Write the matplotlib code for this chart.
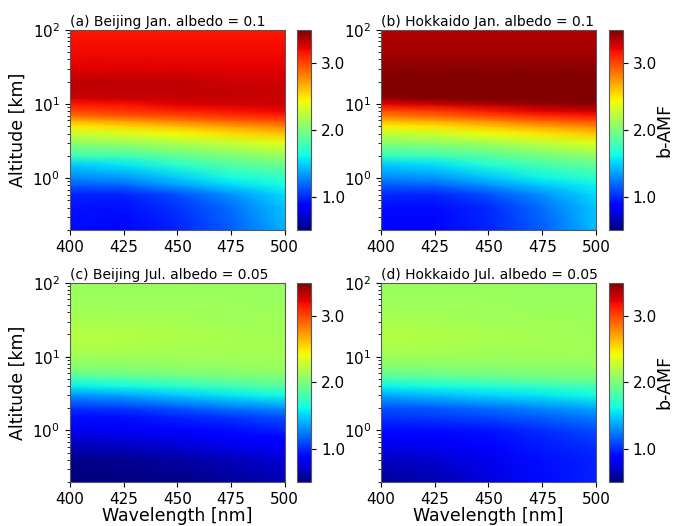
import numpy as np
import matplotlib

matplotlib.use("Agg")
import matplotlib.pyplot as plt

# grid (cell rows = altitude in km, columns = wavelength in nm)
wavelength = [400, 425, 450, 475, 500]
altitude = [0.2, 0.4, 0.6, 0.8, 1.0, 1.5, 2, 3, 4, 5, 6, 7, 8, 10, 12, 15, 20, 30, 50, 100]

titles = ["(a) Beijing Jan. albedo = 0.1", "(b) Hokkaido Jan. albedo = 0.1",
          "(c) Beijing Jul. albedo = 0.05", "(d) Hokkaido Jul. albedo = 0.05"]

beijing_jan = [
    [0.90, 0.88, 0.98, 1.15, 1.40],
    [0.93, 0.92, 1.02, 1.20, 1.45],
    [0.97, 0.97, 1.10, 1.30, 1.53],
    [1.14, 1.17, 1.34, 1.50, 1.63],
    [1.27, 1.32, 1.47, 1.62, 1.72],
    [1.47, 1.55, 1.70, 1.84, 1.93],
    [1.77, 1.80, 1.90, 2.00, 2.10],
    [2.08, 2.11, 2.19, 2.28, 2.38],
    [2.28, 2.34, 2.43, 2.52, 2.60],
    [2.47, 2.54, 2.63, 2.72, 2.81],
    [2.68, 2.75, 2.85, 2.93, 2.99],
    [2.88, 2.95, 3.00, 3.07, 3.12],
    [3.00, 3.05, 3.12, 3.17, 3.21],
    [3.15, 3.18, 3.25, 3.28, 3.30],
    [3.28, 3.31, 3.31, 3.31, 3.31],
    [3.33, 3.33, 3.33, 3.32, 3.31],
    [3.34, 3.33, 3.33, 3.30, 3.28],
    [3.25, 3.25, 3.25, 3.24, 3.24],
    [3.20, 3.20, 3.20, 3.20, 3.20],
    [3.16, 3.16, 3.16, 3.16, 3.16],
]

hokkaido_jan = [
    [0.88, 0.87, 0.97, 1.15, 1.43],
    [0.90, 0.90, 1.00, 1.20, 1.47],
    [1.00, 0.99, 1.10, 1.30, 1.52],
    [1.14, 1.16, 1.30, 1.47, 1.60],
    [1.27, 1.30, 1.44, 1.60, 1.70],
    [1.47, 1.52, 1.67, 1.80, 1.90],
    [1.74, 1.77, 1.87, 1.97, 2.07],
    [2.05, 2.08, 2.15, 2.25, 2.36],
    [2.25, 2.30, 2.40, 2.50, 2.59],
    [2.45, 2.51, 2.60, 2.71, 2.80],
    [2.66, 2.72, 2.81, 2.92, 3.00],
    [2.85, 2.92, 3.00, 3.10, 3.16],
    [2.97, 3.03, 3.14, 3.24, 3.30],
    [3.22, 3.30, 3.38, 3.44, 3.47],
    [3.45, 3.48, 3.50, 3.50, 3.50],
    [3.50, 3.50, 3.50, 3.50, 3.50],
    [3.50, 3.50, 3.50, 3.50, 3.50],
    [3.47, 3.47, 3.47, 3.47, 3.47],
    [3.40, 3.40, 3.40, 3.40, 3.40],
    [3.36, 3.36, 3.36, 3.36, 3.36],
]

beijing_jul = [
    [0.50, 0.50, 0.52, 0.56, 0.63],
    [0.53, 0.55, 0.60, 0.66, 0.73],
    [0.65, 0.67, 0.72, 0.77, 0.82],
    [0.73, 0.75, 0.79, 0.83, 0.87],
    [0.80, 0.81, 0.85, 0.90, 0.97],
    [0.90, 0.92, 0.97, 1.03, 1.10],
    [1.02, 1.05, 1.13, 1.22, 1.30],
    [1.30, 1.36, 1.47, 1.56, 1.62],
    [1.58, 1.62, 1.70, 1.79, 1.86],
    [1.77, 1.82, 1.88, 1.93, 1.97],
    [1.95, 1.97, 2.00, 2.03, 2.06],
    [2.03, 2.04, 2.06, 2.08, 2.10],
    [2.07, 2.08, 2.09, 2.11, 2.12],
    [2.12, 2.12, 2.13, 2.13, 2.14],
    [2.17, 2.16, 2.15, 2.15, 2.15],
    [2.20, 2.19, 2.17, 2.16, 2.15],
    [2.21, 2.20, 2.18, 2.16, 2.14],
    [2.17, 2.16, 2.15, 2.14, 2.13],
    [2.12, 2.12, 2.12, 2.12, 2.11],
    [2.10, 2.10, 2.10, 2.10, 2.10],
]

hokkaido_jul = [
    [0.56, 0.62, 0.75, 0.90, 0.98],
    [0.67, 0.72, 0.79, 0.92, 0.98],
    [0.77, 0.80, 0.84, 0.95, 1.01],
    [0.87, 0.88, 0.90, 0.98, 1.06],
    [0.90, 0.91, 0.93, 1.01, 1.10],
    [1.02, 1.04, 1.08, 1.15, 1.23],
    [1.10, 1.14, 1.20, 1.28, 1.37],
    [1.37, 1.43, 1.50, 1.56, 1.62],
    [1.60, 1.63, 1.68, 1.74, 1.80],
    [1.80, 1.84, 1.88, 1.93, 1.97],
    [1.93, 1.96, 1.98, 2.01, 2.03],
    [2.00, 2.02, 2.04, 2.05, 2.07],
    [2.06, 2.07, 2.08, 2.09, 2.10],
    [2.12, 2.12, 2.12, 2.12, 2.12],
    [2.16, 2.15, 2.14, 2.14, 2.13],
    [2.19, 2.18, 2.16, 2.15, 2.14],
    [2.21, 2.19, 2.17, 2.15, 2.13],
    [2.17, 2.15, 2.14, 2.13, 2.12],
    [2.12, 2.12, 2.12, 2.11, 2.11],
    [2.10, 2.10, 2.10, 2.10, 2.10],
]

panels = [beijing_jan, hokkaido_jan, beijing_jul, hokkaido_jul]

# figure-fraction boxes [left, bottom, width, height]
ax_boxes = [[0.103, 0.563, 0.317, 0.380], [0.562, 0.563, 0.317, 0.380],
            [0.103, 0.084, 0.317, 0.378], [0.562, 0.084, 0.317, 0.378]]
cb_lefts = [0.438, 0.898, 0.438, 0.898]

fig = plt.figure(figsize=(6.78, 5.26), dpi=100)
X, Y = np.meshgrid(wavelength, altitude)

for i, data in enumerate(panels):
    ax = fig.add_axes(ax_boxes[i])
    mesh = ax.pcolormesh(X, Y, np.array(data), cmap="jet", vmin=0.5, vmax=3.5,
                         shading="gouraud", rasterized=True)
    ax.set_yscale("log")
    ax.set_xlim(400, 500)
    ax.set_ylim(0.2, 100)
    ax.set_xticks([400, 425, 450, 475, 500])
    ax.tick_params(labelsize=11)
    ax.set_title(titles[i], loc="left", fontsize=10, pad=3)
    for sp in ax.spines.values():
        sp.set_color("0.35")
    if i % 2 == 0:
        ax.set_ylabel("Altitude [km]", fontsize=12.5)
    if i >= 2:
        ax.set_xlabel("Wavelength [nm]", fontsize=12.5, labelpad=0)

    box = ax_boxes[i]
    cax = fig.add_axes([cb_lefts[i], box[1], 0.021, box[3]])
    cb = fig.colorbar(mesh, cax=cax, ticks=[1.0, 2.0, 3.0], format="%.1f")
    cb.ax.tick_params(labelsize=11)
    cb.outline.set_edgecolor("0.35")
    if i % 2 == 1:
        cb.set_label("b-AMF", fontsize=12.5, labelpad=-1)

fig.savefig("out.png", dpi=100)
